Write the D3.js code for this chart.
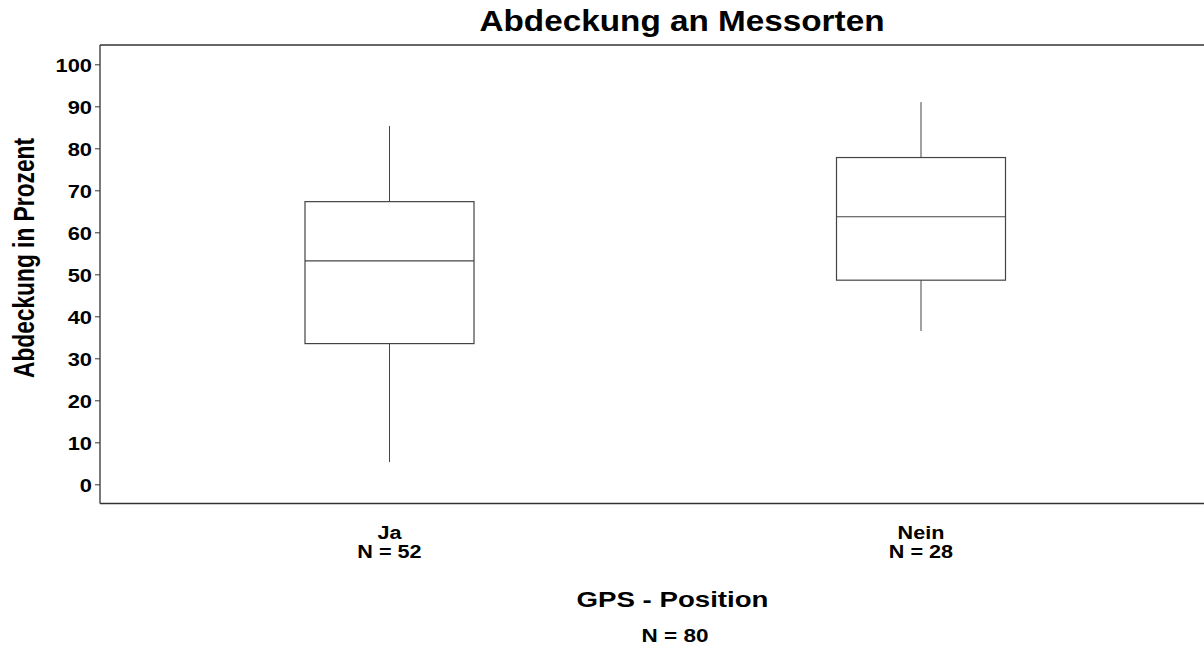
<!DOCTYPE html>
<html><head><meta charset="utf-8">
<script src="https://cdn.jsdelivr.net/npm/d3@7"></script>
<style>body{margin:0;background:#fff}svg{display:block}text{font-family:"Liberation Sans",Arial,sans-serif;fill:#000}</style>
</head><body>
<script>
const categories = ["Ja", "Nein"];
const counts = [52, 28];
const whiskerLow = [5.3, 36.5];
const q1 = [33.5, 48.6];
const median = [53.2, 63.7];
const q3 = [67.3, 77.8];
const whiskerHigh = [85.3, 91.0];
const yTicks = [0,10,20,30,40,50,60,70,80,90,100];
const totalN = 80;

const W = 1204, H = 654;
const svg = d3.select("body").append("svg").attr("width", W).attr("height", H);
const pLeft = 100, pTop = 45, pRight = 1204, pBottom = 503.5;
const stretch = 1.2;
function widen(sel, k) {
  sel.each(function() {
    const len = this.getComputedTextLength();
    d3.select(this).attr("textLength", len * (k || stretch)).attr("lengthAdjust", "spacingAndGlyphs");
  });
}

const y = d3.scaleLinear().domain([0, 100]).range([484.3, 64.3]);
const x = d3.scalePoint().domain(categories).range([389.5, 921]);
const boxW = 169;

// frame
svg.append("line").attr("x1", pLeft).attr("x2", pRight).attr("y1", pTop).attr("y2", pTop).attr("stroke", "#333").attr("stroke-width", 1.3);
svg.append("line").attr("x1", pLeft).attr("x2", pRight).attr("y1", pBottom).attr("y2", pBottom).attr("stroke", "#333").attr("stroke-width", 1.3);

// y axis
const yAxis = svg.append("g").attr("transform", `translate(${pLeft},0)`)
  .call(d3.axisLeft(y).tickValues(yTicks).tickSize(5).tickPadding(3).tickSizeOuter(0));
yAxis.select(".domain").attr("d", `M0,${pTop}V${pBottom}`).attr("stroke", "#333").attr("stroke-width", 1.3);
yAxis.selectAll(".tick line").attr("stroke", "#333");
yAxis.selectAll(".tick text").style("font-size", "19px").style("font-weight", "bold").attr("fill", "#000").attr("dy", "0.36em").call(widen, 1.15);

// boxes
const data = categories.map((c, i) => ({c, n: counts[i], lo: whiskerLow[i], q1: q1[i], med: median[i], q3: q3[i], hi: whiskerHigh[i]}));
const g = svg.append("g").selectAll("g").data(data).join("g");
const stroke = "#444";
g.append("line").attr("x1", d => x(d.c)).attr("x2", d => x(d.c)).attr("y1", d => y(d.hi)).attr("y2", d => y(d.q3)).attr("stroke", stroke);
g.append("line").attr("x1", d => x(d.c)).attr("x2", d => x(d.c)).attr("y1", d => y(d.q1)).attr("y2", d => y(d.lo)).attr("stroke", stroke);
g.append("rect").attr("x", d => x(d.c) - boxW/2).attr("width", boxW).attr("y", d => y(d.q3)).attr("height", d => y(d.q1) - y(d.q3))
  .attr("fill", "#fff").attr("stroke", stroke).attr("stroke-width", 1.2);
g.append("line").attr("x1", d => x(d.c) - boxW/2).attr("x2", d => x(d.c) + boxW/2).attr("y1", d => y(d.med)).attr("y2", d => y(d.med)).attr("stroke", stroke).attr("stroke-width", 1.2);

// x labels
g.append("text").attr("x", d => x(d.c)).attr("y", 539).attr("text-anchor", "middle").style("font-size", "18px").style("font-weight", "bold").text(d => d.c).call(widen);
g.append("text").attr("x", d => x(d.c)).attr("y", 557.5).attr("text-anchor", "middle").style("font-size", "18px").style("font-weight", "bold").text(d => "N = " + d.n).call(widen);

// titles
svg.append("text").attr("x", 682).attr("y", 31).attr("text-anchor", "middle").style("font-size", "29px").style("font-weight", "bold")
  .attr("textLength", 405).attr("lengthAdjust", "spacingAndGlyphs").text("Abdeckung an Messorten");
svg.append("text").attr("x", 672.5).attr("y", 606.5).attr("text-anchor", "middle").style("font-size", "22px").style("font-weight", "bold")
  .attr("textLength", 192).attr("lengthAdjust", "spacingAndGlyphs").text("GPS - Position");
svg.append("text").attr("x", 675).attr("y", 642).attr("text-anchor", "middle").style("font-size", "18px").style("font-weight", "bold")
  .text("N = " + totalN).call(widen, 1.25);
svg.append("text").attr("transform", "translate(34,258) rotate(-90)").attr("text-anchor", "middle")
  .style("font-family", "'Liberation Sans Narrow','Liberation Sans',sans-serif").style("font-size", "29px").style("font-weight", "bold")
  .attr("textLength", 240).attr("lengthAdjust", "spacingAndGlyphs").text("Abdeckung in Prozent");
</script>
</body></html>
